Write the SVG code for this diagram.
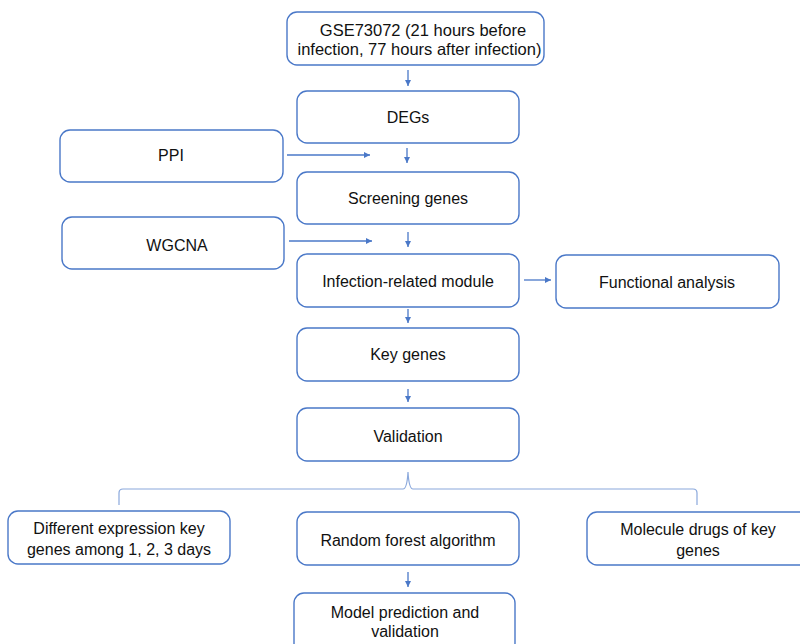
<svg xmlns="http://www.w3.org/2000/svg" width="800" height="644" viewBox="0 0 800 644">
<style>
.box{fill:#ffffff;stroke:#4a78c8;stroke-width:1.4}
.t{font-family:"Liberation Sans",Arial,sans-serif;font-size:16px;fill:#111111;text-anchor:middle}
.big{font-size:16.5px}
.c{stroke:#4a78c8;stroke-width:1.3;fill:none}
.br{stroke:#8aa8dc;stroke-width:1.2;fill:none}
</style>
<defs>
<marker id="ah" markerUnits="userSpaceOnUse" markerWidth="7" markerHeight="7" refX="6" refY="3" orient="auto">
<path d="M0,0 L6,3 L0,6 Z" fill="#4a78c8"/>
</marker>
</defs>
<rect width="800" height="644" fill="#ffffff"/>
<g id="connectors">
<line class="c" x1="408" y1="70" x2="408" y2="86" marker-end="url(#ah)"/>
<line class="c" x1="407" y1="148" x2="407" y2="163" marker-end="url(#ah)"/>
<line class="c" x1="287" y1="155" x2="370" y2="155" marker-end="url(#ah)"/>
<line class="c" x1="408" y1="232" x2="408" y2="247" marker-end="url(#ah)"/>
<line class="c" x1="289" y1="241" x2="372" y2="241" marker-end="url(#ah)"/>
<line class="c" x1="524" y1="280" x2="551" y2="280" marker-end="url(#ah)"/>
<line class="c" x1="408" y1="309" x2="408" y2="323" marker-end="url(#ah)"/>
<line class="c" x1="408" y1="389" x2="408" y2="402" marker-end="url(#ah)"/>
<line class="c" x1="408" y1="572" x2="408" y2="587" marker-end="url(#ah)"/>
<path class="br" d="M119,505 V493 Q119,489 123,489 H403 Q407,489 408,472 Q409,489 413,489 H693 Q697,489 697,493 V505"/>
</g>
<g id="gse">
<rect class="box" x="287" y="12" width="257" height="53" rx="10"/>
<text class="t big" x="423" y="36">GSE73072 (21 hours before</text>
<text class="t big" x="419.5" y="55">infection, 77 hours after infection)</text>
</g>
<g id="degs">
<rect class="box" x="297" y="91" width="222" height="52" rx="10"/>
<text class="t" x="408" y="123">DEGs</text>
</g>
<g id="ppi">
<rect class="box" x="60" y="130" width="223" height="52" rx="10"/>
<text class="t" x="171" y="161">PPI</text>
</g>
<g id="screening">
<rect class="box" x="297" y="172" width="222" height="52" rx="10"/>
<text class="t" x="408" y="204">Screening genes</text>
</g>
<g id="wgcna">
<rect class="box" x="62" y="217" width="222" height="52" rx="10"/>
<text class="t" x="177" y="251">WGCNA</text>
</g>
<g id="infection">
<rect class="box" x="297" y="254" width="222" height="53" rx="10"/>
<text class="t" x="408" y="287">Infection-related module</text>
</g>
<g id="functional">
<rect class="box" x="556" y="255" width="223" height="53" rx="10"/>
<text class="t" x="667" y="288">Functional analysis</text>
</g>
<g id="key">
<rect class="box" x="297" y="328" width="222" height="53" rx="10"/>
<text class="t" x="408" y="360">Key genes</text>
</g>
<g id="validation">
<rect class="box" x="297" y="408" width="222" height="53" rx="10"/>
<text class="t" x="408" y="442">Validation</text>
</g>
<g id="different">
<rect class="box" x="8" y="511" width="222" height="53" rx="10"/>
<text class="t" x="119" y="534">Different expression key</text>
<text class="t" x="119" y="555">genes among 1, 2, 3 days</text>
</g>
<g id="random">
<rect class="box" x="297" y="512" width="222" height="53" rx="10"/>
<text class="t" x="408" y="546">Random forest algorithm</text>
</g>
<g id="molecule">
<rect class="box" x="587" y="512" width="222" height="53" rx="10"/>
<text class="t" x="698" y="535">Molecule drugs of key</text>
<text class="t" x="698" y="556">genes</text>
</g>
<g id="model">
<rect class="box" x="294" y="593" width="221" height="60" rx="10"/>
<text class="t" x="405" y="618">Model prediction and</text>
<text class="t" x="405" y="637">validation</text>
</g>
</svg>
